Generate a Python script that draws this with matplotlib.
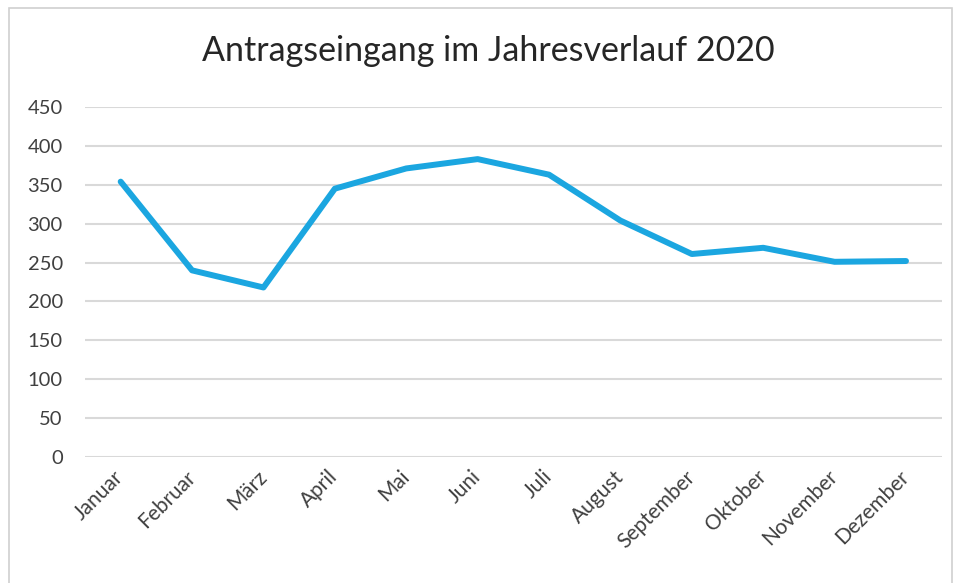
import matplotlib
matplotlib.use('Agg')
import matplotlib.pyplot as plt
from matplotlib.patches import Rectangle

monate = ['Januar', 'Februar', 'März', 'April', 'Mai', 'Juni', 'Juli',
          'August', 'September', 'Oktober', 'November', 'Dezember']
antraege = [354, 240, 218, 345, 371, 383, 363, 304, 261, 269, 251, 252]
y_ticks = [0, 50, 100, 150, 200, 250, 300, 350, 400, 450]

plt.rcParams['font.family'] = ['Lato', 'DejaVu Sans']

fig = plt.figure(figsize=(9.57, 5.83), dpi=100)
ax = fig.add_axes([0.0888, 0.216, 0.8952, 0.6005])

x = list(range(len(monate)))
ax.plot(x, antraege, color='#1BA6E0', linewidth=4.3, solid_joinstyle='round',
        solid_capstyle='round', zorder=3)

ax.set_xlim(-0.5, len(monate) - 0.5)
ax.set_ylim(0, 450)
ax.set_yticks(y_ticks)
ax.set_yticklabels([str(v) for v in y_ticks], fontsize=14.5, color='#404040')
ax.set_xticks(x)
ax.set_xticklabels(monate, rotation=45, ha='right', va='center',
                   rotation_mode='anchor', fontsize=15, color='#404040')
ax.tick_params(axis='both', length=0)
ax.tick_params(axis='y', pad=16)
ax.tick_params(axis='x', pad=12)
ax.grid(axis='y', color='#D9D9D9', linewidth=1.5)
ax.set_axisbelow(True)
for s in ax.spines.values():
    s.set_visible(False)

fig.text(0.51, 0.912, 'Antragseingang im Jahresverlauf 2020', ha='center',
         va='center', fontsize=24.5, color='#262626')

# Rahmen um das Diagramm
fig.patches.append(Rectangle((9 / 957, -0.05), 943 / 957, 1 - 8 / 583 + 0.05,
                             transform=fig.transFigure, fill=False,
                             edgecolor='#D0D0D0', linewidth=1.2))

fig.savefig('out.png', dpi=100)
